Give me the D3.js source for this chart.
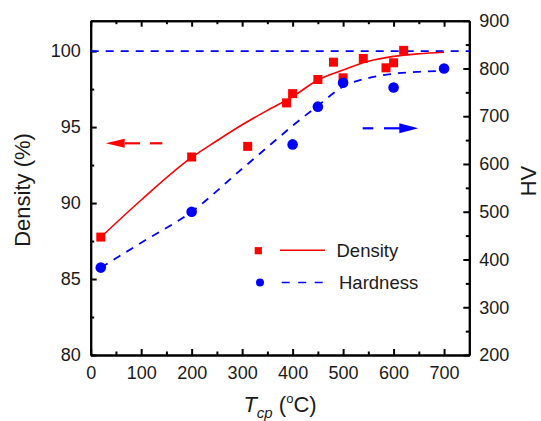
<!DOCTYPE html>
<html><head><meta charset="utf-8">
<script src="https://cdn.jsdelivr.net/npm/d3@7"></script>
<style>
html,body{margin:0;padding:0;background:#fff;}
svg{display:block;font-family:"Liberation Sans",Arial,Helvetica,sans-serif;}
</style></head>
<body><svg id="chart" width="541" height="421"></svg>
<script>
// ---- data ----
const densityT = [20, 200, 311, 388, 400, 450, 481, 500, 540, 585, 600, 620];
const densityV = [87.76, 93.03, 93.73, 96.59, 97.2, 98.13, 99.27, 98.24, 99.51, 98.9, 99.23, 100.05];
const hardnessT = [20, 200, 400, 450, 500, 600, 700];
const hardnessV = [383, 500, 641, 720, 770, 760, 800];
const densityFitT = [20, 100, 200, 250, 300, 350, 400, 450, 500, 550, 600, 650, 700];
const densityFitV = [87.75, 90.2, 93.0, 94.1, 95.15, 96.1, 97.0, 98.1, 98.75, 99.33, 99.65, 99.82, 99.92];
const hardnessFitT = [20, 100, 200, 300, 350, 400, 450, 500, 550, 600, 650, 700];
const hardnessFitV = [383, 435, 500, 590, 635, 680, 722, 762, 780, 789, 793, 795];
const fullDensity = 100;
const xTicks = [0, 100, 200, 300, 400, 500, 600, 700];
const yLeftTicks = [80, 85, 90, 95, 100];
const yRightTicks = [200, 300, 400, 500, 600, 700, 800, 900];
const legendLabels = ["Density", "Hardness"];

// ---- layout ----
const L = 90.7, R = 469.3, T = 20.7, B = 355;
const svg = d3.select("#chart");
const x = d3.scaleLinear().domain([0, 750]).range([L, R]);
const yL = d3.scaleLinear().domain([80, 102]).range([B, T]);
const yR = d3.scaleLinear().domain([200, 900]).range([B, T]);
const RED = "#ff0000", BLUE = "#0000ff", TXT = "#1a1a1a";

function styleAxis(g) {
  g.select(".domain").attr("stroke", "#000").attr("stroke-width", 2);
  g.selectAll(".tick line").attr("stroke", "#000").attr("stroke-width", 2);
  g.selectAll(".tick text").attr("fill", TXT).style("font-size", "18px")
   .style("font-family", '"Liberation Sans",Arial,sans-serif');
}
const xMinor = d3.range(50, 750, 100);
const yLMinor = [82.5, 87.5, 92.5, 97.5];
const yRMinor = d3.range(250, 900, 100);

// minor ticks
svg.append("g").attr("transform", `translate(0,${B})`)
  .call(d3.axisBottom(x).tickValues(xMinor).tickSize(-3.5).tickFormat("").tickSizeOuter(0)).call(styleAxis);
svg.append("g").attr("transform", `translate(0,${T})`)
  .call(d3.axisTop(x).tickValues(xMinor).tickSize(-3.5).tickFormat("").tickSizeOuter(0)).call(styleAxis);
svg.append("g").attr("transform", `translate(${L},0)`)
  .call(d3.axisLeft(yL).tickValues(yLMinor).tickSize(-3.5).tickFormat("").tickSizeOuter(0)).call(styleAxis);
svg.append("g").attr("transform", `translate(${R},0)`)
  .call(d3.axisRight(yR).tickValues(yRMinor).tickSize(-3.5).tickFormat("").tickSizeOuter(0)).call(styleAxis);

// major axes
svg.append("g").attr("transform", `translate(0,${B})`)
  .call(d3.axisBottom(x).tickValues(xTicks).tickSize(-6).tickPadding(11).tickSizeOuter(0)).call(styleAxis);
svg.append("g").attr("transform", `translate(0,${T})`)
  .call(d3.axisTop(x).tickValues(xTicks).tickSize(-6).tickFormat("").tickSizeOuter(0)).call(styleAxis);
svg.append("g").attr("transform", `translate(${L},0)`)
  .call(d3.axisLeft(yL).tickValues(yLeftTicks).tickSize(-6).tickPadding(10).tickSizeOuter(0)).call(styleAxis);
svg.append("g").attr("transform", `translate(${R},0)`)
  .call(d3.axisRight(yR).tickValues(yRightTicks).tickSize(-6).tickPadding(10).tickSizeOuter(0)).call(styleAxis);

// reference line at 100 %
svg.append("line").attr("x1", L).attr("x2", R)
  .attr("y1", yL(fullDensity)).attr("y2", yL(fullDensity))
  .attr("stroke", BLUE).attr("stroke-width", 1.6).attr("stroke-dasharray", "8,7");

// fit curves
const lineD = d3.line().x(d => x(d[0])).y(d => yL(d[1])).curve(d3.curveMonotoneX);
const lineH = d3.line().x(d => x(d[0])).y(d => yR(d[1])).curve(d3.curveMonotoneX);
svg.append("path").datum(densityFitT.map((t, i) => [t, densityFitV[i]]))
  .attr("d", lineD).attr("fill", "none").attr("stroke", RED).attr("stroke-width", 1.6);
svg.append("path").datum(hardnessFitT.map((t, i) => [t, hardnessFitV[i]]))
  .attr("d", lineH).attr("fill", "none").attr("stroke", BLUE).attr("stroke-width", 1.8)
  .attr("stroke-dasharray", "8,7");

// markers
const SQ = 9;
svg.append("g").selectAll("rect").data(densityT.map((t, i) => [t, densityV[i]])).join("rect")
  .attr("x", d => x(d[0]) - SQ / 2).attr("y", d => yL(d[1]) - SQ / 2)
  .attr("width", SQ).attr("height", SQ).attr("fill", RED);
svg.append("g").selectAll("circle").data(hardnessT.map((t, i) => [t, hardnessV[i]])).join("circle")
  .attr("cx", d => x(d[0])).attr("cy", d => yR(d[1])).attr("r", 5.3).attr("fill", BLUE);

// arrows
function arrow(x0, x1, y, color, headLen, headHalf, dashes) {
  const dir = Math.sign(x1 - x0);
  const hb = x1 - dir * headLen;
  dashes.forEach(([a, b]) => {
    svg.append("line").attr("x1", a).attr("x2", b).attr("y1", y).attr("y2", y)
      .attr("stroke", color).attr("stroke-width", 2.2);
  });
  svg.append("path").attr("d", `M${x1},${y}L${hb},${y - headHalf}L${hb},${y + headHalf}Z`).attr("fill", color);
}
arrow(162.3, 105.7, 143.3, RED, 19, 4.5, [[162.3, 150], [140, 125]]);
arrow(362.7, 418.3, 128.3, BLUE, 19, 5, [[362.7, 373.3], [384, 400]]);

// legend
const lg = svg.append("g");
lg.append("rect").attr("x", 258.3 - 3.6).attr("y", 250.7 - 3.6).attr("width", 7.2).attr("height", 7.2).attr("fill", RED);
lg.append("line").attr("x1", 280).attr("x2", 325).attr("y1", 250.3).attr("y2", 250.3).attr("stroke", RED).attr("stroke-width", 1.6);
lg.append("circle").attr("cx", 260).attr("cy", 282.5).attr("r", 4).attr("fill", BLUE);
lg.append("line").attr("x1", 281.7).attr("x2", 322.7).attr("y1", 282.5).attr("y2", 282.5)
  .attr("stroke", BLUE).attr("stroke-width", 1.6).attr("stroke-dasharray", "8,8.5");
lg.append("text").attr("x", 336.5).attr("y", 256.8).attr("fill", TXT).style("font-size", "18.5px").text(legendLabels[0]);
lg.append("text").attr("x", 339).attr("y", 289.2).attr("fill", TXT).style("font-size", "18.5px").text(legendLabels[1]);

// axis titles
svg.append("text").attr("transform", "translate(29.5,190) rotate(-90)").attr("text-anchor", "middle")
  .attr("fill", TXT).style("font-size", "22px").text("Density (%)");
svg.append("text").attr("transform", "translate(535.5,181) rotate(-90)").attr("text-anchor", "middle")
  .attr("fill", TXT).style("font-size", "22px").text("HV");
const xt = svg.append("text").attr("x", 280).attr("y", 411.5).attr("text-anchor", "middle")
  .attr("fill", TXT).style("font-size", "22px");
xt.append("tspan").attr("font-style", "italic").text("T");
xt.append("tspan").attr("font-style", "italic").style("font-size", "15px").attr("dy", 6).text("cp");
xt.append("tspan").attr("dy", -6).text(" (");
xt.append("tspan").style("font-size", "13px").attr("dy", -9).text("o");
xt.append("tspan").attr("dy", 9).text("C)");
</script></body></html>
